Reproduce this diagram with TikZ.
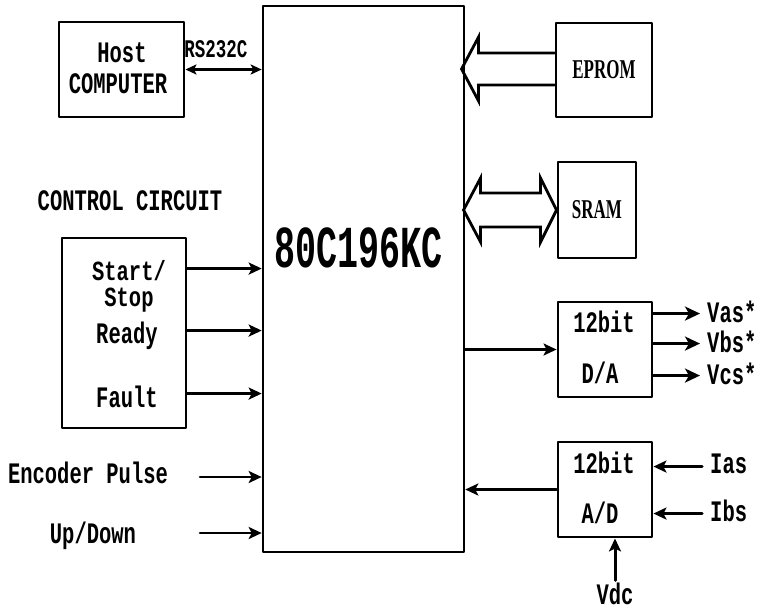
\documentclass[tikz,border=0pt]{standalone}
\usepackage{fontspec}
\usepackage{graphicx}
\setmonofont{Liberation Mono}
\newfontfamily\memfont{Liberation Serif}
\usetikzlibrary{arrows.meta}
\newcommand{\tallt}[2][1.45]{\scalebox{1}[#1]{#2}}

\begin{document}
\begin{tikzpicture}[x=1pt,y=-1pt,line cap=round,line join=round,
  blk/.style={draw,line width=2.9pt,inner sep=0pt},
  lbl/.style={font=\ttfamily\bfseries\fontsize{20.5}{24}\selectfont,inner sep=0pt,anchor=base},
  memlbl/.style={font=\memfont\bfseries\fontsize{17}{20}\selectfont},
  sig/.style={-{Stealth[length=13pt,width=12pt,inset=3pt]},line width=2.6pt},
  outsig/.style={-{Stealth[length=15pt,width=14pt,inset=4pt]},line width=3.2pt},
  bus/.style={draw,line width=2.8pt,line join=miter}]
  \useasboundingbox (0,0) rectangle (760,611);
  \node[blk,line width=2.6pt,minimum width=201pt,minimum height=546pt] (chip) at (363.5,279) {};
  \node[lbl,font=\ttfamily\bfseries\fontsize{35}{40}\selectfont] (cpu) at (359,267) {\tallt[1.7]{80C196KC}};
  \node[blk,minimum width=125pt,minimum height=95pt] (host) at (121.5,69.5) {};
  \node[lbl] (hosttxt) at (122,62) {\tallt{Host}};
  \node[lbl] (comptxt) at (118,93) {\tallt{COMPUTER}};
  \node[lbl,font=\ttfamily\bfseries\fontsize{17.5}{20}\selectfont] (rs) at (216,57) {\tallt{RS232C}};
  \draw[{Stealth[length=11pt,width=10pt,inset=2.5pt]}-{Stealth[length=11pt,width=10pt,inset=2.5pt]},line width=2.6pt] (host.east) -- (host.east -| chip.west);
  \node[lbl] (cctitle) at (130,210) {\tallt{CONTROL CIRCUIT}};
  \node[blk,minimum width=124pt,minimum height=190pt] (ctrl) at (124,333) {};
  \node[lbl,anchor=center,align=center] (startstop) at (129,286) {\tallt[1.35]{Start/}\\[2pt]\tallt[1.35]{Stop}};
  \node[lbl] (ready) at (127,343) {\tallt{Ready}};
  \node[lbl] (fault) at (127,407) {\tallt{Fault}};
  \path (ctrl.north east) ++(0,32) coordinate (c1) ++(0,62) coordinate (c2) ++(0,63) coordinate (c3);
  \foreach \c in {c1,c2,c3}
    \draw[sig] (\c) -- (\c -| chip.west);
  \node[lbl] (enc) at (88,483) {\tallt{Encoder Pulse}};
  \node[lbl] (updn) at (93,543) {\tallt{Up/Down}};
  \coordinate (encin) at (200,477);
  \coordinate (udin) at (200,533);
  \draw[sig] (encin) -- (encin -| chip.west);
  \draw[sig] (udin) -- (udin -| chip.west);
  \node[blk,memlbl,minimum width=96pt,minimum height=94pt] (eprom) at (604,70) {\tallt[1.6]{EPROM}};
  \draw[bus] (eprom.west) ++(0,-17) -- ++(-76,0) -- ++(0,-16) -- ++(-17,32) -- ++(17,32) -- ++(0,-16) -- ++(76,0);
  \node[blk,memlbl,minimum width=78pt,minimum height=96pt] (sram) at (597,210) {\tallt[1.6]{SRAM}};
  \draw[bus] (sram.west) -- ++(-16,-32) -- ++(0,15) -- ++(-60,0) -- ++(0,-15) -- ++(-17,32) -- ++(17,32) -- ++(0,-15) -- ++(60,0) -- ++(0,15) -- cycle;
  \node[blk,minimum width=94pt,minimum height=95pt] (da) at (605,349.5) {};
  \node[lbl] (dabit) at (604,332) {\tallt{12bit}};
  \node[lbl] (datxt) at (600,383) {\tallt{D/A}};
  \draw[sig,line width=2.2pt] (chip.east |- da.west) -- (da.west);
  \node[lbl,anchor=base west] (vas) at (707,322) {\tallt{Vas*}};
  \node[lbl,anchor=base west] (vbs) at (707,352) {\tallt{Vbs*}};
  \node[lbl,anchor=base west] (vcs) at (707,384) {\tallt{Vcs*}};
  \path (da.north east) ++(0,13) coordinate (o1) ++(0,30) coordinate (o2) ++(0,32) coordinate (o3);
  \foreach \o/\v in {o1/vas,o2/vbs,o3/vcs}
    \draw[outsig,shorten >=7pt] (\o) -- (\o -| \v.west);
  \node[blk,minimum width=94pt,minimum height=95pt] (ad) at (605,489.5) {};
  \node[lbl] (adbit) at (604,473) {\tallt{12bit}};
  \node[lbl] (adtxt) at (600,523) {\tallt{A/D}};
  \draw[sig,line width=2.2pt] (ad.west) -- (chip.east |- ad.west);
  \node[lbl,anchor=base west] (ias) at (710,473) {\tallt{Ias}};
  \node[lbl,anchor=base west] (ibs) at (710,521) {\tallt{Ibs}};
  \path (ad.north east) ++(0,26) coordinate (i1) ++(0,47) coordinate (i2);
  \foreach \i/\v in {i1/ias,i2/ibs}
    \draw[sig,line width=3pt,shorten <=8pt] (\i -| \v.west) -- (\i);
  \node[lbl] (vdc) at (615,604) {\tallt{Vdc}};
  \draw[sig,line width=3pt] ([yshift=2pt]vdc.north) -- (vdc.north |- ad.south);
\end{tikzpicture}
\end{document}
